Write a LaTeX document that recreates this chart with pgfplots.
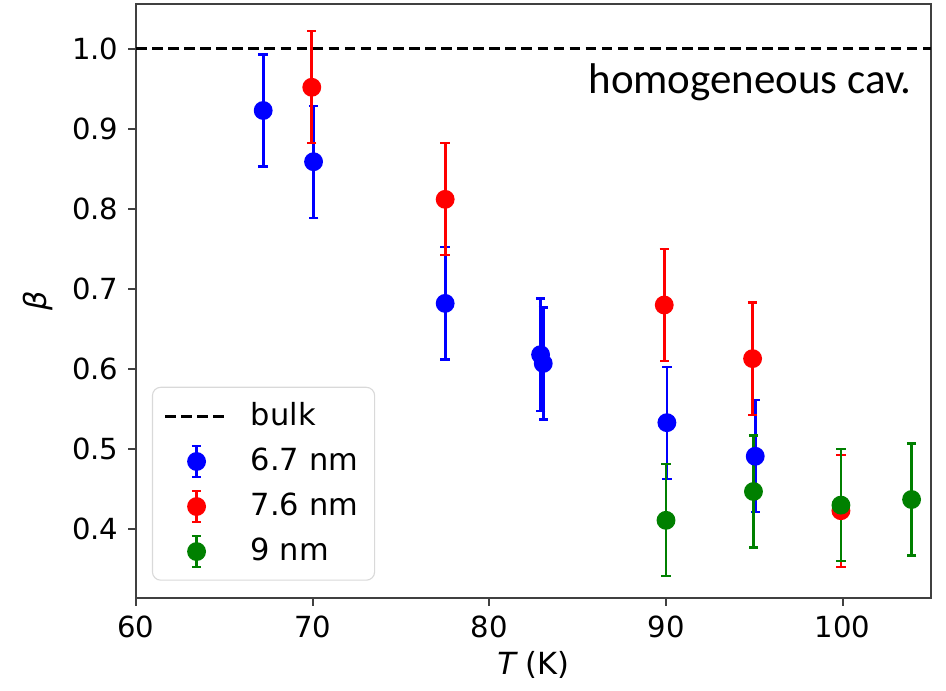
\documentclass[border=0pt]{standalone}
\usepackage{fontspec}
\setmainfont{DejaVu Sans}
\newfontfamily\carlito{Carlito}
\usepackage{pgfplots}
\pgfplotsset{compat=1.18}
\usepackage{pgfplotstable}

\definecolor{mplgreen}{RGB}{0,128,0}

\pgfplotstableread{
x y e
67.2 0.923 0.07
70.05 0.859 0.07
77.5 0.682 0.07
82.9 0.618 0.07
83.05 0.607 0.07
90.05 0.533 0.07
95.05 0.491 0.07
}\datablue
\pgfplotstableread{
x y e
69.95 0.952 0.07
77.5 0.812 0.07
89.9 0.680 0.07
94.9 0.613 0.07
99.9 0.423 0.07
}\datared
\pgfplotstableread{
x y e
90.0 0.411 0.07
94.95 0.447 0.07
99.9 0.430 0.07
103.9 0.437 0.07
}\datagreen

\pgfplotsset{
  ebar/.style={
    only marks, mark=*, mark size=2.9pt, line width=1pt,
    error bars/y dir=both, error bars/y explicit,
    error bars/error bar style={line width=1pt},
    error bars/error mark options={rotate=90, mark size=1.7pt, line width=0.8pt},
    legend image code/.code={
      \draw[line width=1pt] (0.4cm,-0.2cm) -- (0.4cm,0.2cm);
      \draw[line width=0.8pt] (0.34cm,-0.2cm) -- (0.46cm,-0.2cm);
      \draw[line width=0.8pt] (0.34cm,0.2cm) -- (0.46cm,0.2cm);
      \fill (0.4cm,0cm) circle (2.9pt);
      \path (1.0cm,0);
    },
  },
}

\begin{document}
\begin{tikzpicture}
\path[use as bounding box] (-1.726,-1.18) rectangle (10.28,7.589);
\begin{axis}[
  at={(0,0)}, anchor=south west,
  scale only axis,
  width=10.09cm, height=7.538cm,
  xmin=60, xmax=105, ymin=0.314, ymax=1.056,
  xtick={60,70,80,90,100},
  ytick={0.4,0.5,0.6,0.7,0.8,0.9,1.0},
  yticklabel style={/pgf/number format/.cd, fixed, fixed zerofill, precision=1},
  /pgf/number format/assume math mode=true,
  tick align=outside,
  tick pos=left,
  major tick length=0.1cm,
  tick style={black!75, line width=0.8pt},
  axis line style={black!75, line width=0.9pt},
  ticklabel style={font=\fontsize{10.5}{12}\selectfont},
  xlabel={{\itshape T} (K)},
  ylabel={{\itshape β}},
  label style={font=\fontsize{11}{13}\selectfont},
  xlabel style={yshift=0.07cm},
  ylabel style={yshift=0.0cm},
  legend cell align=left,
  legend style={
    at={(rel axis cs:0.02,0.029)}, anchor=south west,
    draw=black!15, rounded corners=3pt, fill=white,
    font=\fontsize{11}{13}\selectfont,
    inner xsep=4pt, inner ysep=3.5pt,
    row sep=2.6pt,
  },
]
\addplot[black, line width=1.1pt, dash pattern=on 3.8pt off 2pt,
  legend image code/.code={\draw[black, line width=1.1pt, dash pattern=on 3.8pt off 2pt] (0,0) -- (0.8cm,0); \path (1.0cm,0);}]
  coordinates {(60,1.0) (105,1.0)};
\addlegendentry{bulk}
\addplot[blue, ebar] table[x=x, y=y, y error=e] {\datablue};
\addlegendentry{6.7 nm}
\addplot[red, ebar] table[x=x, y=y, y error=e] {\datared};
\addlegendentry{7.6 nm}
\addplot[mplgreen, ebar] table[x=x, y=y, y error=e] {\datagreen};
\addlegendentry{9 nm}
\node[anchor=east, font=\carlito\fontsize{15.5}{17}\selectfont, inner sep=0pt]
  at (rel axis cs:0.9765,0.869) {homogeneous cav.};
\end{axis}
\end{tikzpicture}
\end{document}
